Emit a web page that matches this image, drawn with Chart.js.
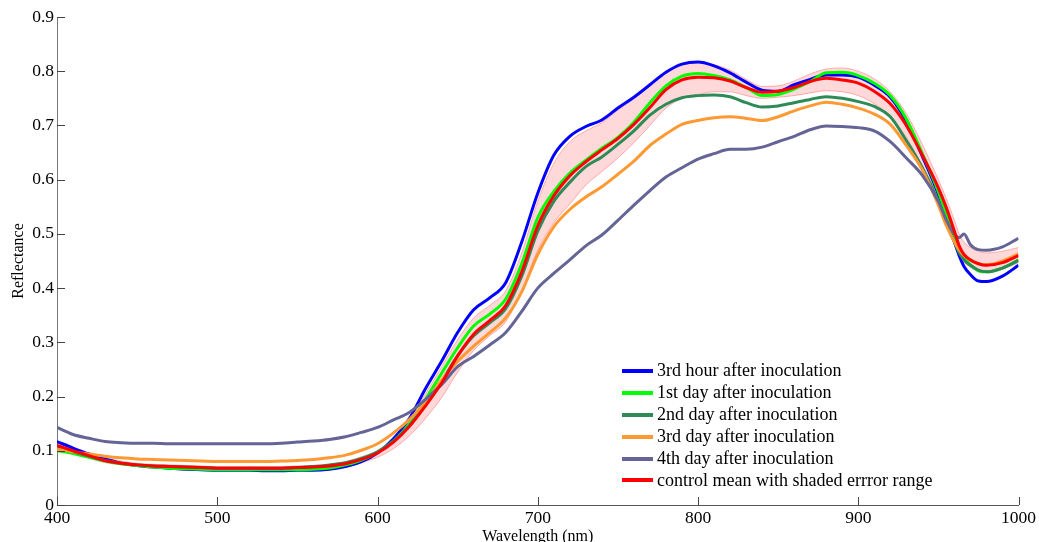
<!DOCTYPE html>
<html>
<head>
<meta charset="utf-8">
<script src="https://cdn.jsdelivr.net/npm/chart.js@4/dist/chart.umd.min.js"></script>
<style>
  html, body { margin: 0; padding: 0; background: #fff; }
  #wrap { position: relative; width: 1039px; height: 542px; overflow: hidden; }
  #legend { position: absolute; left: 622px; top: 360px; font-family: "Liberation Serif", "Times New Roman", serif; font-size: 18px; color: #000; }
  .row { display: flex; align-items: center; height: 21.9px; white-space: nowrap; }
  .swatch { display: inline-block; width: 31px; height: 4px; margin-right: 4px; }
</style>
</head>
<body>
<div id="wrap">
  <canvas id="c" width="1039" height="542"></canvas>
  <div id="legend"></div>
</div>
<script>
const wavelengths = [400,410,420,430,440,450,460,470,480,490,500,510,520,530,540,550,560,570,580,590,600,610,620,630,640,650,660,670,680,690,700,710,720,730,740,750,760,770,780,790,800,810,820,830,840,850,860,870,880,890,900,910,920,930,940,950,955,960,963,966,970,975,980,990,1000];

const hour3 = [0.117,0.105,0.094,0.085,0.077,0.073,0.070,0.068,0.066,0.065,0.064,0.064,0.064,0.063,0.063,0.064,0.064,0.066,0.071,0.080,0.096,0.122,0.160,0.215,0.265,0.318,0.360,0.382,0.410,0.485,0.575,0.645,0.680,0.698,0.710,0.732,0.752,0.775,0.798,0.813,0.817,0.810,0.797,0.780,0.765,0.763,0.775,0.785,0.793,0.793,0.789,0.774,0.752,0.708,0.643,0.573,0.530,0.485,0.460,0.440,0.425,0.413,0.412,0.422,0.442];

const day1 = [0.100,0.095,0.088,0.081,0.076,0.073,0.070,0.068,0.067,0.066,0.065,0.065,0.065,0.065,0.065,0.065,0.066,0.068,0.074,0.083,0.097,0.118,0.150,0.195,0.243,0.290,0.330,0.352,0.380,0.445,0.530,0.578,0.612,0.636,0.658,0.678,0.706,0.742,0.773,0.791,0.796,0.792,0.784,0.770,0.755,0.757,0.767,0.781,0.797,0.798,0.792,0.778,0.755,0.712,0.648,0.578,0.535,0.495,0.470,0.455,0.443,0.432,0.430,0.437,0.452];

const day2 = [0.105,0.098,0.090,0.082,0.077,0.074,0.072,0.071,0.070,0.069,0.068,0.068,0.068,0.068,0.068,0.069,0.071,0.074,0.078,0.086,0.098,0.118,0.147,0.185,0.228,0.275,0.312,0.336,0.362,0.422,0.505,0.560,0.595,0.624,0.642,0.665,0.690,0.719,0.739,0.751,0.755,0.756,0.753,0.742,0.734,0.736,0.742,0.748,0.753,0.750,0.744,0.735,0.716,0.672,0.622,0.560,0.522,0.485,0.465,0.452,0.442,0.433,0.430,0.437,0.451];

const day3 = [0.103,0.098,0.094,0.090,0.087,0.085,0.084,0.083,0.082,0.081,0.080,0.080,0.080,0.080,0.081,0.082,0.084,0.087,0.092,0.101,0.113,0.133,0.158,0.190,0.230,0.265,0.293,0.318,0.345,0.393,0.462,0.513,0.545,0.568,0.587,0.610,0.634,0.663,0.684,0.702,0.709,0.714,0.716,0.713,0.709,0.716,0.727,0.736,0.743,0.739,0.732,0.721,0.702,0.663,0.618,0.553,0.515,0.485,0.470,0.460,0.452,0.445,0.443,0.450,0.463];

const day4 = [0.143,0.130,0.123,0.117,0.115,0.114,0.114,0.113,0.113,0.113,0.113,0.113,0.113,0.113,0.114,0.116,0.118,0.121,0.126,0.134,0.143,0.157,0.171,0.195,0.222,0.255,0.274,0.295,0.318,0.357,0.400,0.427,0.452,0.478,0.498,0.525,0.553,0.580,0.605,0.622,0.638,0.648,0.656,0.656,0.660,0.670,0.680,0.692,0.699,0.698,0.696,0.690,0.670,0.640,0.608,0.560,0.525,0.500,0.493,0.500,0.480,0.471,0.470,0.476,0.492];

const controlMean = [0.110,0.100,0.091,0.082,0.077,0.074,0.072,0.071,0.070,0.069,0.068,0.068,0.068,0.068,0.068,0.069,0.070,0.072,0.076,0.084,0.096,0.116,0.145,0.183,0.225,0.275,0.315,0.340,0.368,0.430,0.515,0.570,0.607,0.633,0.655,0.676,0.702,0.733,0.766,0.784,0.789,0.788,0.782,0.770,0.761,0.763,0.770,0.781,0.787,0.784,0.778,0.763,0.740,0.700,0.645,0.585,0.548,0.505,0.478,0.462,0.452,0.445,0.442,0.447,0.460];

const controlUpper = [0.115,0.105,0.096,0.087,0.081,0.077,0.075,0.074,0.073,0.072,0.071,0.071,0.071,0.071,0.071,0.072,0.073,0.075,0.080,0.089,0.100,0.123,0.157,0.205,0.255,0.305,0.345,0.368,0.395,0.465,0.560,0.630,0.670,0.690,0.705,0.728,0.750,0.775,0.798,0.812,0.816,0.812,0.802,0.785,0.772,0.773,0.782,0.795,0.804,0.806,0.800,0.786,0.762,0.722,0.665,0.600,0.565,0.525,0.500,0.485,0.475,0.468,0.465,0.468,0.475];

const controlLower = [0.105,0.095,0.086,0.078,0.074,0.071,0.069,0.068,0.067,0.066,0.065,0.065,0.065,0.065,0.065,0.066,0.067,0.069,0.071,0.078,0.088,0.104,0.128,0.160,0.198,0.245,0.285,0.312,0.338,0.395,0.470,0.520,0.555,0.590,0.615,0.640,0.668,0.700,0.732,0.750,0.757,0.762,0.762,0.755,0.750,0.752,0.755,0.760,0.764,0.762,0.755,0.740,0.716,0.678,0.625,0.568,0.532,0.490,0.462,0.448,0.438,0.432,0.430,0.435,0.447];

const seriesLabels = ["3rd hour after inoculation","1st day after inoculation","2nd day after inoculation","3rd day after inoculation","4th day after inoculation","control mean with shaded errror range"];
const seriesColors = ["#0000ff","#00ff00","#2e8b57","#ff9933","#646496","#ff0000"];
const xTicks = [400,500,600,700,800,900,1000];
const yTicks = [0,0.1,0.2,0.3,0.4,0.5,0.6,0.7,0.8,0.9];

const toPts = arr => arr.map((v, i) => ({x: wavelengths[i], y: v}));
const seriesValues = [hour3, day1, day2, day3, day4, controlMean];

const datasets = seriesValues.map((vals, i) => ({
  label: seriesLabels[i],
  data: toPts(vals),
  borderColor: seriesColors[i],
  backgroundColor: seriesColors[i],
  borderWidth: 3,
  pointRadius: 0,
  fill: false,
  cubicInterpolationMode: 'monotone',
  order: 6 - i
}));
datasets.push({
  label: '_bandUpper',
  data: toPts(controlUpper),
  borderColor: 'rgba(255,120,120,0.55)',
  backgroundColor: 'rgba(255,0,0,0.15)',
  borderWidth: 1,
  pointRadius: 0,
  fill: '+1',
  cubicInterpolationMode: 'monotone',
  order: 10
});
datasets.push({
  label: '_bandLower',
  data: toPts(controlLower),
  borderColor: 'rgba(255,120,120,0.55)',
  backgroundColor: 'rgba(255,0,0,0.15)',
  borderWidth: 1,
  pointRadius: 0,
  fill: false,
  cubicInterpolationMode: 'monotone',
  order: 11
});

const inwardTicks = {
  id: 'inwardTicks',
  afterDraw(chart) {
    const ctx = chart.ctx;
    const xs = chart.scales.x, ys = chart.scales.y;
    const area = chart.chartArea;
    ctx.save();
    ctx.strokeStyle = '#444';
    ctx.lineWidth = 1;
    ctx.beginPath();
    xTicks.forEach(t => {
      const px = Math.round(xs.getPixelForValue(t)) + 0.5;
      ctx.moveTo(px, area.bottom);
      ctx.lineTo(px, area.bottom - 8);
    });
    yTicks.forEach(t => {
      const py = Math.round(ys.getPixelForValue(t)) + 0.5;
      ctx.moveTo(area.left, py);
      ctx.lineTo(area.left + 8, py);
    });
    ctx.stroke();
    ctx.restore();
  }
};

const chart = new Chart(document.getElementById('c'), {
  type: 'line',
  data: { datasets },
  options: {
    responsive: false,
    animation: false,
    layout: { padding: { top: 17, right: 20, left: 0, bottom: 0 } },
    plugins: { legend: { display: false }, tooltip: { enabled: false }, title: { display: false } },
    scales: {
      x: {
        type: 'linear', min: 400, max: 1000,
        afterFit: s => { s.height = 37; },
        afterBuildTicks: s => { s.ticks = xTicks.map(v => ({value: v})); },
        grid: { display: false, drawTicks: false },
        border: { display: true, color: '#555', width: 1 },
        ticks: { padding: 3, color: '#000', font: { family: 'Liberation Serif', size: 17.5 }, maxRotation: 0, callback: v => String(v) },
        title: { display: true, text: 'Wavelength (nm)', color: '#000', font: { family: 'Liberation Serif', size: 16, lineHeight: 0.6 }, padding: { top: 0, bottom: 0 } }
      },
      y: {
        type: 'linear', min: 0, max: 0.9,
        afterFit: s => { s.width = 57; },
        afterBuildTicks: s => { s.ticks = yTicks.map(v => ({value: v})); },
        grid: { display: false, drawTicks: false },
        border: { display: true, color: '#777', width: 1 },
        ticks: { padding: 3, color: '#000', font: { family: 'Liberation Serif', size: 17.5 }, callback: v => v === 0 ? '0' : v.toFixed(1) },
        title: { display: true, text: 'Reflectance', color: '#000', font: { family: 'Liberation Serif', size: 16 }, padding: { top: 9, bottom: 0 } }
      }
    }
  },
  plugins: [inwardTicks]
});

const legendEl = document.getElementById('legend');
chart.data.datasets.filter(d => !d.label.startsWith('_')).forEach(d => {
  const row = document.createElement('div');
  row.className = 'row';
  const sw = document.createElement('span');
  sw.className = 'swatch';
  sw.style.background = d.borderColor;
  const tx = document.createElement('span');
  tx.textContent = d.label;
  row.appendChild(sw);
  row.appendChild(tx);
  legendEl.appendChild(row);
});
</script>
</body>
</html>
